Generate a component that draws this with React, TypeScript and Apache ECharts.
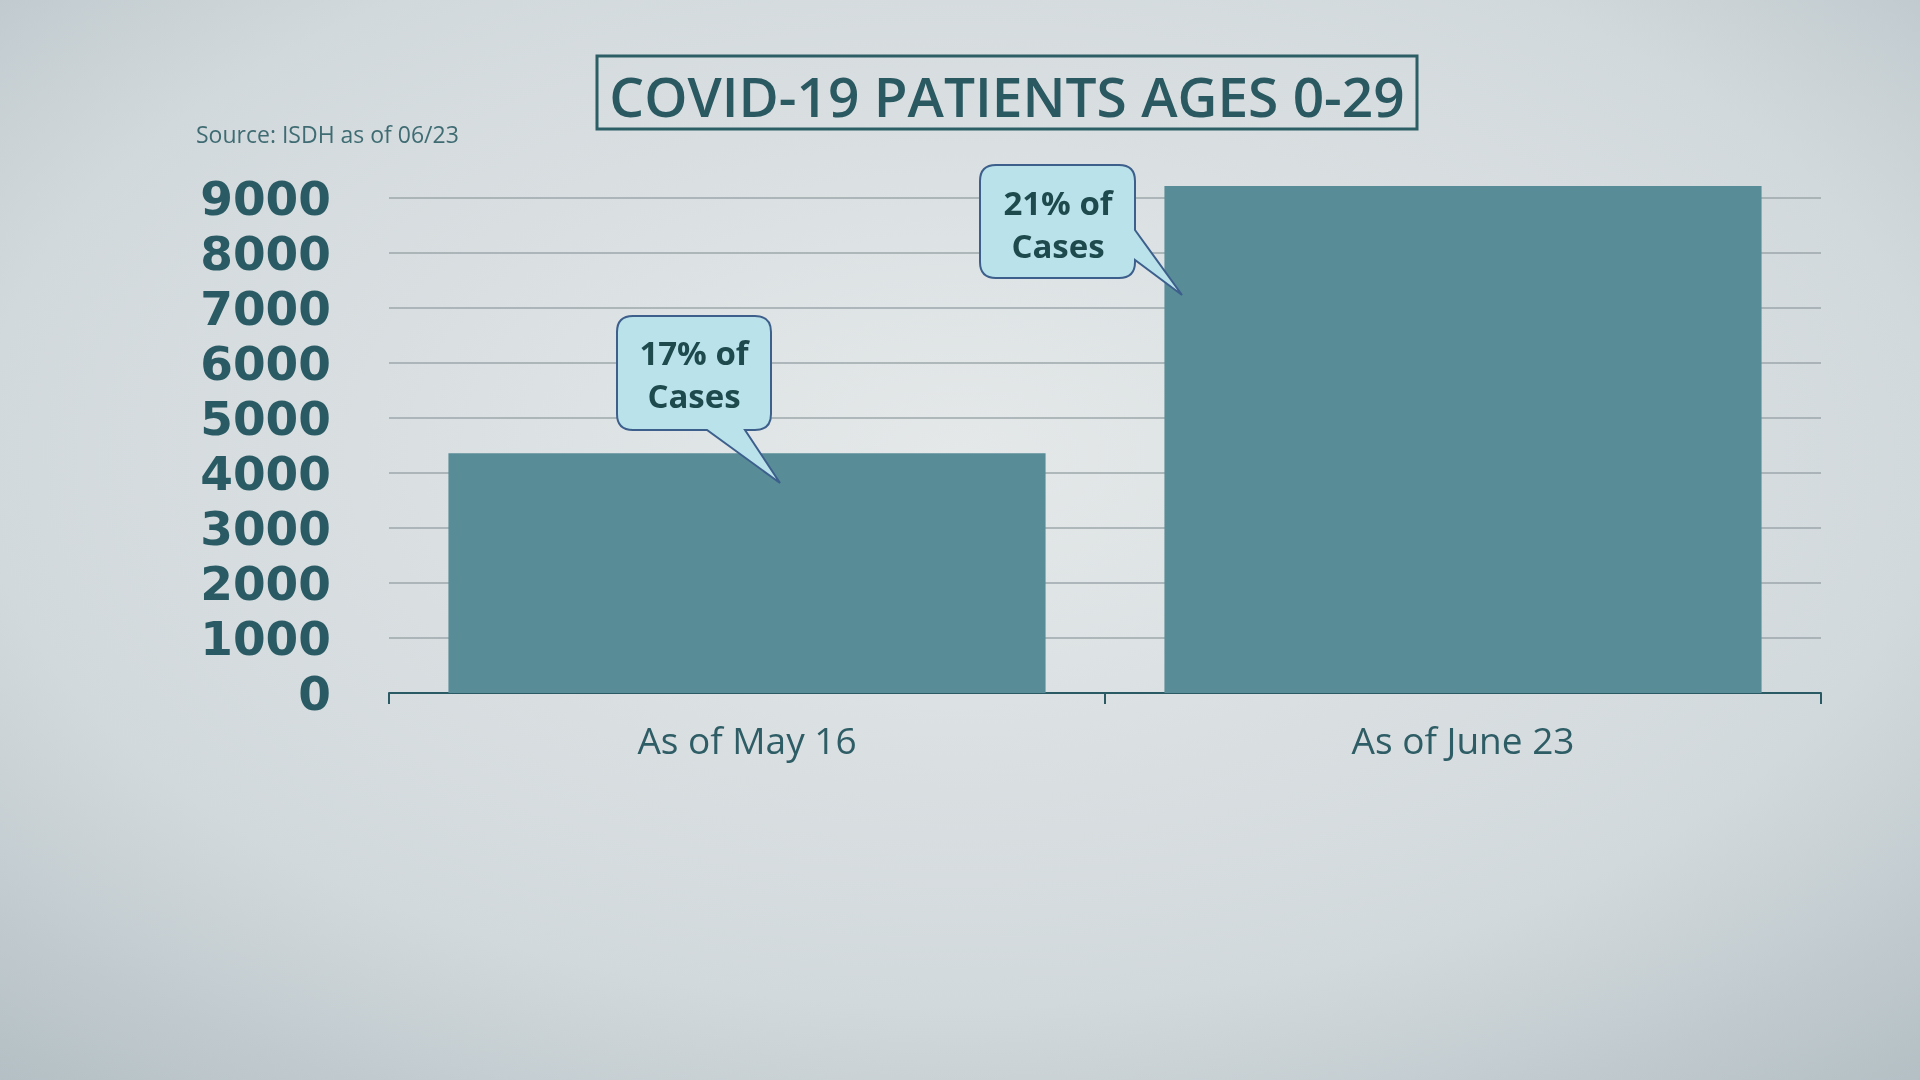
import React, { useEffect, useRef } from "react";
import * as echarts from "echarts";

const categories = ["As of May 16", "As of June 23"];
const patients = [4360, 9220];
const yTicks = [0, 1000, 2000, 3000, 4000, 5000, 6000, 7000, 8000, 9000];
const callouts = ["17% of\nCases", "21% of\nCases"];

const TEAL_DARK = "#2a5b64";

echarts.graphic.registerShape(
  "bubble1",
  echarts.graphic.extendPath(
    "M633 316 L755 316 Q771 316 771 332 L771 414 Q771 430 755 430 L745 430 L780 483 L707 430 L633 430 Q617 430 617 414 L617 332 Q617 316 633 316 Z",
    {}
  )
);
echarts.graphic.registerShape(
  "bubble2",
  echarts.graphic.extendPath(
    "M996 165 L1119 165 Q1135 165 1135 181 L1135 230 L1182 295 L1135 260 L1135 262 Q1135 278 1119 278 L996 278 Q980 278 980 262 L980 181 Q980 165 996 165 Z",
    {}
  )
);

export default function App() {
  const ref = useRef<HTMLDivElement>(null);
  useEffect(() => {
    if (!ref.current) return;
    const chart = echarts.init(ref.current, undefined, { renderer: "svg" });
    const bubbleStyle = { fill: "#b9e2ea", stroke: "#3d5f8c", lineWidth: 2 };
    const calloutText = (text: string, x: number, y: number) => ({
      type: "text",
      x,
      y,
      z: 20,
      style: {
        text,
        fontSize: 33,
        fontWeight: "bold",
        fontFamily: "Open Sans",
        lineHeight: 43,
        fill: "#1f4a4d",
        align: "center",
        verticalAlign: "middle",
      },
    });
    chart.setOption({
      animation: false,
      textStyle: { fontFamily: "Open Sans" },
      graphic: [
        {
          type: "rect",
          z: -10,
          silent: true,
          shape: { x: 0, y: 0, width: 1920, height: 1080 },
          style: {
            fill: new echarts.graphic.RadialGradient(0.5, 0.42, 0.85, [
              { offset: 0, color: "#e4e8e9" },
              { offset: 0.6, color: "#d2d9dc" },
              { offset: 1, color: "#aab7bd" },
            ]),
          },
        },
        {
          type: "rect",
          z: 5,
          shape: { x: 597, y: 56, width: 820, height: 73 },
          style: { fill: "transparent", stroke: "#2c5e66", lineWidth: 3 },
        },
        {
          type: "text",
          x: 1007,
          y: 95,
          z: 5,
          style: {
            text: "COVID-19 PATIENTS AGES 0-29",
            fontSize: 55,
            fontWeight: 600,
            fontFamily: "Open Sans",
            fill: "#2a5961",
            align: "center",
            verticalAlign: "middle",
          },
        },
        {
          type: "text",
          x: 196,
          y: 134,
          z: 5,
          style: {
            text: "Source: ISDH as of 06/23",
            fontSize: 23,
            fontFamily: "Open Sans",
            fill: "#3f6c73",
            align: "left",
            verticalAlign: "middle",
          },
        },
        { type: "bubble1", x: 0, y: 0, z: 19, style: bubbleStyle },
        { type: "bubble2", x: 0, y: 0, z: 19, style: bubbleStyle },
        calloutText(callouts[0], 694, 374),
        calloutText(callouts[1], 1058, 224),
      ],
      grid: { left: 389, right: 99, top: 198, bottom: 387, containLabel: false },
      xAxis: {
        type: "category",
        data: categories,
        axisLine: { lineStyle: { color: TEAL_DARK, width: 2 } },
        axisTick: { show: true, length: 11, lineStyle: { color: TEAL_DARK, width: 2 } },
        axisLabel: {
          fontSize: 37,
          color: "#2e5d66",
          fontFamily: "Open Sans",
          margin: 28,
        },
        splitLine: { show: false },
      },
      yAxis: {
        type: "value",
        min: yTicks[0],
        max: yTicks[yTicks.length - 1],
        interval: 1000,
        axisLine: { show: false },
        axisTick: { show: false },
        axisLabel: {
          fontSize: 47,
          lineHeight: 47,
          fontWeight: "bold",
          color: TEAL_DARK,
          fontFamily: "DejaVu Sans",
          margin: 58,
          showMinLabel: true,
          showMaxLabel: true,
          hideOverlap: false,
          formatter: (v: number) => String(v),
        },
        splitLine: { lineStyle: { color: "#9ca7ab", width: 1.5 } },
      },
      series: [
        {
          type: "bar",
          data: patients,
          barCategoryGap: "16.6%",
          clip: false,
          itemStyle: { color: "#588d98" },
          z: 3,
        },
      ],
    });
    return () => chart.dispose();
  }, []);
  return (
    <div
      ref={ref}
      style={{ position: "fixed", left: 0, top: 0, width: 1920, height: 1080 }}
    />
  );
}
